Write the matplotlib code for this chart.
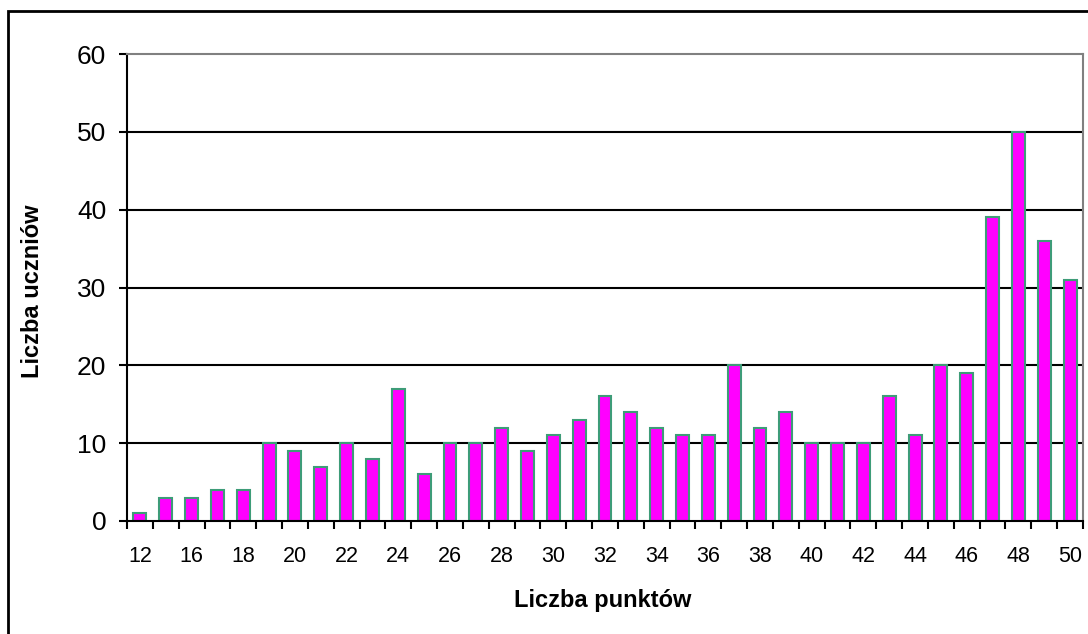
import matplotlib
matplotlib.use("Agg")
import matplotlib.pyplot as plt
from matplotlib.patches import Rectangle
import numpy as np

plt.rcParams['font.family'] = ['Liberation Sans', 'DejaVu Sans']

categories = [12, 14, 16, 17, 18, 19, 20, 21, 22, 23, 24, 25, 26, 27, 28, 29, 30,
              31, 32, 33, 34, 35, 36, 37, 38, 39, 40, 41, 42, 43, 44, 45, 46, 47,
              48, 49, 50]
values = [1, 3, 3, 4, 4, 10, 9, 7, 10, 8, 17, 6, 10, 10, 12, 9, 11,
          13, 16, 14, 12, 11, 11, 20, 12, 14, 10, 10, 10, 16, 11, 20, 19, 39,
          50, 36, 31]
y_ticks = [0, 10, 20, 30, 40, 50, 60]

W, H = 1088, 634
fig = plt.figure(figsize=(W / 100, H / 100), dpi=100)
ax = fig.add_axes([127 / W, 1 - 521 / H, (1083 - 127) / W, (521 - 54) / H])

# outer frame
fig.patches.append(Rectangle((8 / W, -0.1), 1.2, 1 - 11 / H + 0.1,
                             transform=fig.transFigure, fill=False,
                             edgecolor='black', linewidth=2))

x = np.arange(len(categories))
for yv in y_ticks[1:-1]:
    ax.axhline(yv, color='black', linewidth=1.5, zorder=1)

ax.bar(x, values, width=0.5, color='#FF00FF', edgecolor='#3E9C78',
       linewidth=1.5, zorder=3)

ax.set_xlim(-0.5, len(categories) - 0.5)
ax.set_ylim(0, 60)

ax.set_yticks(y_ticks)
ax.set_yticklabels([str(v) for v in y_ticks], fontsize=19)
ax.tick_params(axis='y', direction='out', length=6, width=1.5, pad=9)

ax.set_xticks(np.arange(len(categories) + 1) - 0.5)
ax.set_xticklabels([])
ax.tick_params(axis='x', which='major', direction='out', length=6, width=1.5)
ax.set_xticks(x, minor=True)
ax.set_xticklabels([str(c) if i % 2 == 0 else '' for i, c in enumerate(categories)],
                   minor=True, fontsize=15.5)
ax.tick_params(axis='x', which='minor', length=0, pad=18)

for s in ['left', 'bottom']:
    ax.spines[s].set_color('black')
    ax.spines[s].set_linewidth(1.5)
for s in ['top', 'right']:
    ax.spines[s].set_color('#808080')
    ax.spines[s].set_linewidth(1.5)
ax.spines['bottom'].set_zorder(5)

fig.text(33 / W, 1 - 291 / H, 'Liczba uczniów', rotation=90, ha='center',
         va='center', fontsize=17, fontweight='bold')
fig.text(603 / W, 1 - 600 / H, 'Liczba punktów', ha='center', va='center',
         fontsize=17, fontweight='bold')

fig.savefig('out.png', dpi=100)
